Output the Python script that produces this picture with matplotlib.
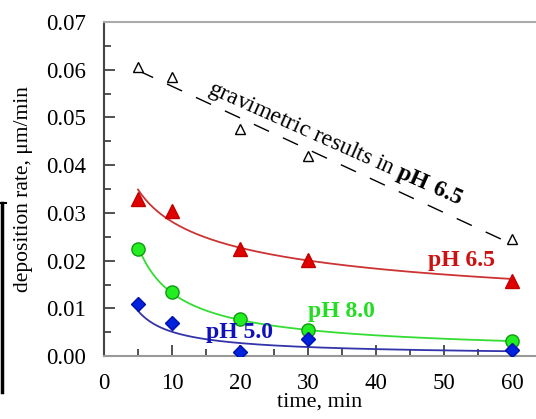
import numpy as np
import matplotlib.pyplot as plt
from matplotlib.lines import Line2D
from matplotlib.ticker import MultipleLocator

plt.rcParams['font.family'] = 'Liberation Serif'
plt.rcParams['mathtext.fontset'] = 'custom'
plt.rcParams['mathtext.rm'] = 'Liberation Serif'
plt.rcParams['mathtext.bf'] = 'Liberation Serif:bold'

t = [5, 10, 20, 30, 60]
grav = [0.0605, 0.0585, 0.0475, 0.0420, 0.0245]
ph65 = [0.0330, 0.0305, 0.0225, 0.0202, 0.0158]
ph80 = [0.0225, 0.0135, 0.0077, 0.0055, 0.0031]
ph50 = [0.0110, 0.0070, 0.0008, 0.0035, 0.0012]

fig = plt.figure(figsize=(5.36, 4.19), dpi=100)
ax = fig.add_axes([0.194, 0.150, 0.806, 0.7975])

tt = np.linspace(5, 60, 200)

# linear fit for gravimetric data
p = np.polyfit(t, grav, 1)
ax.plot(t, grav, ls='none', marker='^', ms=7, mfc='white', mec='black', mew=1.0, zorder=3)
ax.plot([5, 60], np.polyval(p, [5, 60]), color='black', lw=1.0, dashes=(12, 11))

# power-law fits for the others
def powfit(y):
    b, a = np.polyfit(np.log(t), np.log(y), 1)
    return np.exp(a) * tt ** b

ax.plot(tt, powfit(ph65), color='#cc3333', lw=1.3)
ax.plot(t, ph65, ls='none', marker='^', ms=10, mfc='#e00000', mec='#c00000', zorder=3)
ax.plot(tt, powfit(ph80), color='#33dd33', lw=1.3)
ax.plot(t, ph80, ls='none', marker='o', ms=9.5, mfc='#22ee22', mec='#119911', zorder=3)
ax.plot(tt, powfit(ph50), color='#3333aa', lw=1.3)
ax.plot(t, ph50, ls='none', marker='D', ms=7, mfc='#0022dd', mec='#0011aa', zorder=3)

ax.text(52.6, 0.0200, 'pH 6.5', color='#cc1111', fontsize=17, fontweight='bold', ha='center', va='center')
ax.text(34.9, 0.0094, 'pH 8.0', color='#22dd22', fontsize=17, fontweight='bold', ha='center', va='center')
ax.text(19.9, 0.0050, 'pH 5.0', color='#1111bb', fontsize=17, fontweight='bold', ha='center', va='center')
ax.text(15.1, 0.0553, r'gravimetric results in $\mathbf{pH\ 6.5}$', fontsize=17,
        rotation=-24, rotation_mode='anchor', ha='left', va='baseline')

ax.set_xlim(0, 63.5)
ax.set_ylim(0, 0.07)
ax.xaxis.set_major_locator(MultipleLocator(10))
ax.xaxis.set_minor_locator(MultipleLocator(5))
ax.yaxis.set_major_locator(MultipleLocator(0.01))
ax.yaxis.set_minor_locator(MultipleLocator(0.005))
ax.yaxis.set_major_formatter(plt.FormatStrFormatter('%.2f'))
ax.tick_params(which='both', direction='in', labelsize=16.5, color='#333333')
ax.tick_params(which='major', length=8, width=1.2)
ax.tick_params(which='minor', length=5, width=1.2)
ax.tick_params(axis='x', which='both', length=5)
ax.tick_params(axis='x', which='major', length=8)
ax.tick_params(axis='x', pad=12)
ax.tick_params(axis='y', pad=13)
ax.tick_params(right=False, top=False)

ax.spines['right'].set_visible(False)
ax.spines['top'].set_color('#aaaaaa')
ax.spines['top'].set_linewidth(1.5)
ax.spines['bottom'].set_color('#999999')
ax.spines['bottom'].set_linewidth(1.5)
ax.spines['left'].set_color('#444444')
ax.spines['left'].set_linewidth(1.5)

ax.set_xlabel('time, min', fontsize=16, labelpad=-1)
ax.set_ylabel('deposition rate, \u03bcm/min', fontsize=15.5, labelpad=9)

# black edge artifact at left
fig.add_artist(Line2D([0.003, 0.003], [1 - 203 / 419, 1 - 392 / 419], color='black', lw=2.5))
fig.add_artist(Line2D([0.0, 0.012], [1 - 203 / 419, 1 - 203 / 419], color='black', lw=1.5))

fig.savefig('out.png', dpi=100)
